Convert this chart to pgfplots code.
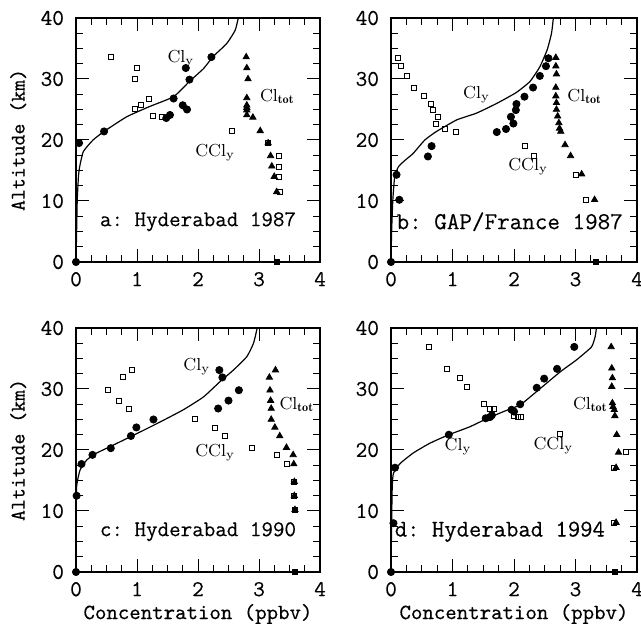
\documentclass[border=0pt]{standalone}
\usepackage{fontspec}
\newfontfamily\tw{Latin Modern Mono}[FakeBold=0.3]
\usepackage{pgfplots}
\pgfplotsset{compat=1.18}
\frenchspacing

\pgfplotsset{
  panel/.style={
    scale only axis, height=122pt,
    xmin=0, xmax=4, ymin=0, ymax=40,
    xtick={0,1,2,3,4}, ytick={0,10,20,30,40},
    minor x tick num=3, minor y tick num=3,
    major tick length=6.5pt, minor tick length=3.5pt,
    tick style={black, line width=0.5pt},
    axis line style={line width=0.6pt},
    /pgf/number format/assume math mode=true,
    ticklabel style={font=\fontsize{11.3}{13}\selectfont\tw\bfseries},
    yticklabel style={xshift=-2.5pt},
    xticklabel style={yshift=-1.5pt},
    label style={font=\fontsize{10.9}{13}\selectfont\tw\bfseries},
  },
  cly/.style={only marks, mark=*, mark size=1.8pt, black},
  ccly/.style={only marks, mark=square, mark size=1.25pt, black, mark options={line width=0.5pt}},
  cltot/.style={only marks, mark=triangle*, mark size=1.8pt, black},
  bot/.style={only marks, mark=square*, mark size=1.2pt, black},
  curve/.style={no marks, black, line width=0.6pt, smooth, tension=0.3},
}
\tikzset{
  lab/.style={font=\fontsize{8.7}{10}\selectfont\rmfamily, inner sep=0pt},
  ttl/.style={font=\fontsize{#1}{14}\selectfont\tw\bfseries},
}
\newcommand{\Cly}{Cl$_\mathrm{y}$}
\newcommand{\CCly}{CCl$_\mathrm{y}$}
\newcommand{\Cltot}{Cl$_\mathbf{tot}$}

\begin{document}
\begin{tikzpicture}
\path[use as bounding box] (0,0) rectangle (320.5pt,315pt);

% a: Hyderabad 1987
\begin{axis}[panel, width=122pt, at={(38pt,184pt)}, anchor=south west,
  ylabel={Altitude (km)},
  ylabel style={at={(axis description cs:-0.237,0.5)}, anchor=center, font=\fontsize{10.4}{12}\selectfont\tw\bfseries}]
\addplot[curve] coordinates {(0,0) (0.01,5) (0.02,10) (0.04,14) (0.06,15.6) (0.12,18.1) (0.28,20) (0.46,21.4) (0.83,23.8) (1.21,25.5) (1.6,27.1) (1.86,29.6) (2.09,31.7) (2.25,33.7) (2.47,35.8) (2.61,38.0) (2.66,40)};
\addplot[cltot] coordinates {(2.79,33.6) (2.80,31.8) (2.82,30.0) (2.80,26.9) (2.80,25.7) (2.80,25.3) (2.80,24.9) (2.80,24.1) (2.9,23.7) (3.02,21.5) (3.15,19.5) (3.19,17.4) (3.21,15.7) (3.25,14.0) (3.29,11.5)};
\addplot[ccly] coordinates {(0.58,33.6) (1.0,31.75) (0.97,29.95) (1.2,26.8) (1.06,25.7) (0.97,25.0) (1.27,24.0) (1.41,23.7) (2.55,21.4) (3.14,19.5) (3.33,17.4) (3.32,15.6) (3.33,14.0) (3.34,11.5)};
\addplot[cly] coordinates {(0,0) (0.05,19.5) (0.46,21.4) (1.48,23.6) (1.54,24.1) (1.6,26.8) (1.75,25.7) (1.82,25.0) (1.86,29.9) (1.80,31.8) (2.22,33.6)};
\addplot[bot] coordinates {(3.3,0)};
\node[lab] at (axis cs:1.72,33.4) {\Cly};
\node[lab] at (axis cs:2.28,17.9) {\CCly};
\node[lab] at (axis cs:3.3,27.1) {\Cltot};
\node[ttl=11.2] at (axis cs:2.0,6.6) {a: Hyderabad 1987};
\end{axis}

% b: GAP/France 1987
\begin{axis}[panel, width=123pt, at={(195.5pt,184pt)}, anchor=south west]
\addplot[curve] coordinates {(0,0) (0.01,5) (0.03,10.2) (0.06,14) (0.12,15.6) (0.22,16.6) (0.36,17.8) (0.55,20) (0.74,21.4) (1.07,23.3) (1.39,24.4) (1.72,26) (2.04,27.8) (2.26,29.6) (2.42,32.0) (2.54,34.8) (2.61,37.5) (2.64,40)};
\addplot[cltot] coordinates {(2.68,33.5) (2.68,32.1) (2.69,30.8) (2.68,28.6) (2.68,27.2) (2.69,26.1) (2.69,25.0) (2.71,23.9) (2.73,22.8) (2.74,21.9) (2.76,21.4) (2.83,19.2) (2.92,17.4) (3.10,14.4) (3.31,10.2)};
\addplot[ccly] coordinates {(0.12,33.4) (0.16,32.2) (0.26,30.5) (0.37,28.6) (0.53,27.2) (0.65,25.9) (0.68,24.9) (0.77,23.8) (0.73,22.7) (0.88,21.8) (1.05,21.3) (2.18,19.0) (2.33,17.3) (3.01,14.3) (3.17,10.2)};
\addplot[cly] coordinates {(0,0) (0.09,14.3) (0.135,10.2) (0.6,17.3) (0.66,19.0) (1.72,21.3) (1.87,21.8) (1.99,22.7) (1.95,23.8) (2.03,24.9) (2.04,25.9) (2.17,27.1) (2.31,28.6) (2.42,30.5) (2.52,32.1) (2.56,33.4)};
\addplot[bot] coordinates {(3.33,0)};
\node[lab] at (axis cs:1.39,27.5) {\Cly};
\node[lab] at (axis cs:2.23,15.6) {\CCly};
\node[lab] at (axis cs:3.15,27.1) {\Cltot};
\node[ttl=12.2] at (axis cs:1.93,6.6) {b: GAP/France 1987};
\end{axis}

% c: Hyderabad 1990
\begin{axis}[panel, width=122pt, at={(38pt,29pt)}, anchor=south west,
  xlabel={Concentration (ppbv)},
  xlabel style={at={(axis description cs:0.5,-0.172)}, anchor=center},
  ylabel={Altitude (km)},
  ylabel style={at={(axis description cs:-0.237,0.5)}, anchor=center, font=\fontsize{10.4}{12}\selectfont\tw\bfseries}]
\addplot[curve] coordinates {(0,0) (0.005,8) (0.01,14) (0.066,16.7) (0.18,18.4) (0.34,19.5) (0.61,20.8) (1.0,22.7) (1.38,24.6) (1.76,26.6) (2.09,28.7) (2.36,31.2) (2.58,33.1) (2.8,35.3) (2.91,37.5) (2.97,40)};
\addplot[cltot] coordinates {(3.27,33.1) (3.17,31.9) (3.18,29.8) (3.19,28.1) (3.2,26.8) (3.2,25.0) (3.26,23.7) (3.34,22.3) (3.45,20.4) (3.56,19.2) (3.57,17.7) (3.58,14.8) (3.58,12.5) (3.59,10.2)};
\addplot[ccly] coordinates {(0.91,33.1) (0.77,31.9) (0.53,29.8) (0.7,28.1) (0.87,26.8) (1.95,25.0) (2.28,23.6) (2.44,22.3) (2.88,20.3) (3.3,19.2) (3.46,17.7) (3.58,14.8) (3.58,12.5) (3.59,10.2)};
\addplot[cly] coordinates {(0,0) (0.01,12.5) (0.09,17.7) (0.27,19.2) (0.57,20.3) (0.9,22.3) (0.99,23.7) (1.27,25.0) (2.33,26.8) (2.5,28.1) (2.67,29.8) (2.4,31.9) (2.35,33.1)};
\addplot[bot] coordinates {(3.59,0)};
\node[lab] at (axis cs:1.98,33.7) {\Cly};
\node[lab] at (axis cs:2.28,19.5) {\CCly};
\node[lab] at (axis cs:3.62,27.4) {\Cltot};
\node[ttl=11.2] at (axis cs:2.0,6.6) {c: Hyderabad 1990};
\end{axis}

% d: Hyderabad 1994
\begin{axis}[panel, width=123pt, at={(195.5pt,29pt)}, anchor=south west,
  xlabel={Concentration (ppbv)},
  xlabel style={at={(axis description cs:0.5,-0.172)}, anchor=center}]
\addplot[curve] coordinates {(0,0) (0.01,8) (0.02,14) (0.04,16.2) (0.15,17.8) (0.36,19.5) (0.63,21.1) (0.94,22.5) (1.28,23.8) (1.55,25.1) (1.83,26.3) (2.1,27.4) (2.37,29.6) (2.75,32.8) (3.02,34.8) (3.26,36.9) (3.32,38.6) (3.34,40)};
\addplot[cltot] coordinates {(3.58,36.9) (3.59,33.4) (3.6,31.8) (3.59,30.4) (3.6,27.7) (3.61,27.1) (3.63,26.6) (3.64,25.6) (3.67,22.5) (3.7,19.6) (3.66,17.1) (3.66,8.1)};
\addplot[ccly] coordinates {(0.62,36.9) (0.91,33.3) (1.12,31.8) (1.24,30.3) (1.51,27.5) (1.61,26.7) (1.67,26.7) (2.0,25.6) (2.06,25.4) (2.12,25.4) (2.74,22.6) (3.82,19.6) (3.62,17.1) (3.62,8.1)};
\addplot[cly] coordinates {(0,0) (0.04,8.0) (0.065,17.1) (0.94,22.5) (1.54,25.2) (1.61,25.4) (1.64,25.7) (1.96,26.6) (2.0,26.3) (2.1,27.5) (2.37,30.2) (2.49,31.7) (2.7,33.3) (2.98,36.9)};
\addplot[bot] coordinates {(3.64,0)};
\node[lab] at (axis cs:1.09,20.5) {\Cly};
\node[lab] at (axis cs:2.64,20.7) {\CCly};
\node[lab] at (axis cs:3.24,27.4) {\Cltot};
\node[ttl=12] at (axis cs:1.77,6.6) {d: Hyderabad 1994};
\end{axis}
\end{tikzpicture}
\end{document}
